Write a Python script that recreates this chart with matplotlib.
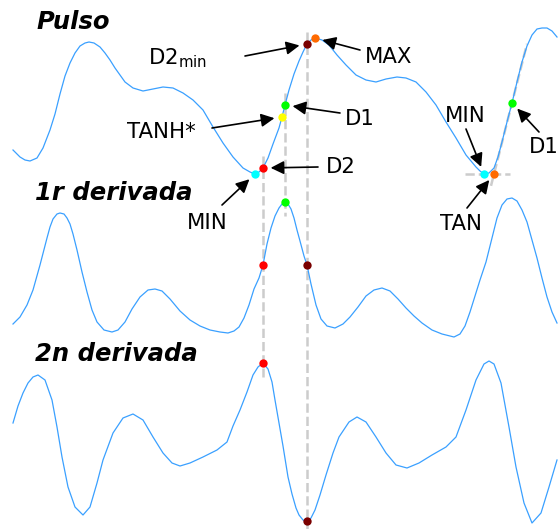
import numpy as np
import matplotlib
matplotlib.use("Agg")
import matplotlib.pyplot as plt

# =========================================================
# DATA (x = sample, values = amplitude)
# =========================================================
pulse_t = [13, 20, 25, 30, 37, 43, 50, 55, 60, 65, 70, 75, 80, 85, 89, 94, 100,
           105, 110, 115, 120, 125, 133, 143, 153, 163, 173, 183, 193, 203, 213,
           223, 233, 243, 250, 255, 259, 263, 268, 273, 279, 282, 285, 289, 294,
           299, 303, 307, 311, 315, 322, 329, 337, 346, 356, 366, 376, 386, 397,
           406, 416, 426, 436, 446, 456, 466, 476, 480, 484, 489, 494, 498, 502,
           507, 512, 517, 522, 527, 532, 537, 542, 547, 552, 557]
pulse_v = [24, 17, 14, 13, 16, 26, 44, 60, 80, 98, 111, 121, 128, 131, 132, 131, 127,
           121, 114, 106, 99, 92, 86, 83, 85, 87, 86, 81, 74, 64, 47,
           31, 17, 6, 2, 0, 2, 6, 16, 30, 46, 57, 69, 84, 100,
           113, 122, 130, 134, 136, 134, 129, 119, 109, 99, 94, 92, 95, 97,
           96, 92, 82, 69, 52, 36, 19, 7, 3, 0, 1, 6, 17, 32,
           52, 71, 92, 112, 128, 139, 145, 146, 146, 143, 137]

d1_t = [13, 20, 27, 33, 40, 47, 50, 53, 57, 60, 64, 67, 70, 73, 77, 82, 87, 92, 97,
        104, 112, 118, 125, 132, 140, 148, 155, 162, 170, 180, 190, 200, 210, 220,
        228, 234, 239, 244, 249, 254, 259, 263, 267, 271, 275, 279, 282, 285, 288,
        291, 294, 297, 300, 304, 307, 311, 316, 321, 327, 335, 343, 350, 358, 366,
        374, 382, 390, 398, 406, 414, 422, 432, 442, 454, 460, 465, 470, 475, 480,
        486, 492, 497, 502, 507, 512, 517, 522, 527, 532, 537, 542, 547, 552, 557]
d1_v = [-34, -27, -15, 0, 25, 52, 63, 71, 76, 77, 76, 72, 66, 56, 40, 18, -2, -20, -32,
        -40, -42, -40, -32, -19, -7, 0, 1, -1, -9, -21, -30, -36, -40, -42,
        -43, -41, -37, -28, -15, 1, 12, 25, 46, 62, 74, 82, 86, 88, 86,
        81, 72, 60, 49, 34, 25, 6, -15, -29, -36, -38, -34, -27, -17, -6,
        0, 2, -1, -9, -18, -26, -33, -40, -44, -47, -44, -36, -22, -6, 10,
        28, 52, 72, 85, 91, 92, 89, 80, 68, 50, 32, 12, -7, -22, -33]

d2_t = [13, 18, 23, 28, 33, 38, 45, 52, 57, 62, 68, 75, 83, 90, 97, 103, 113, 123,
        133, 143, 153, 163, 172, 180, 190, 203, 217, 227, 233, 240, 247, 253, 258,
        263, 268, 272, 275, 279, 283, 288, 292, 296, 299, 303, 307, 311, 315, 320,
        326, 333, 339, 349, 357, 366, 376, 386, 396, 407, 419, 432, 446, 456, 466,
        476, 484, 489, 494, 501, 509, 516, 524, 532, 541, 549, 557]
d2_v = [17, 34, 47, 57, 63, 65, 60, 40, 13, -17, -47, -67, -75, -67, -43, -20, 7, 22,
        26, 20, 3, -13, -23, -26, -23, -17, -10, -2, 14, 30, 48, 65, 73,
        77, 71, 58, 40, 17, -6, -37, -54, -68, -75, -80, -82, -78, -70, -55,
        -35, -13, 3, 18, 23, 18, 3, -13, -25, -28, -23, -15, -7, 3, 30,
        60, 76, 79, 76, 57, 13, -27, -63, -83, -73, -47, -20]

# marked points: (sample, amplitude)
pulse_marks = {
    "MIN": (255, 0), "D2": (263, 6), "TANH": (282, 57), "D1": (285, 69),
    "D2MIN": (307, 130), "MAX": (315, 136),
    "MIN_B": (484, 0), "TAN_B": (494, 0), "D1_B": (512, 71),
}
d1_marks = {"D2": (263, 25), "D1": (285, 88), "D2MIN": (307, 25)}
d2_marks = {"D2": (263, 77), "D2MIN": (307, -81)}

# =========================================================
# STYLE / LAYOUT
# =========================================================
W, H = 558, 529
BASE = {"pulse": 174, "d1": 290, "d2": 440}   # row baselines (pixels from top)
LINE_C = "#3aa0ff"
GUIDE_C = "#cccccc"
MARK_C = {"MIN": "cyan", "MIN_B": "cyan", "D2": "red", "TANH": "yellow",
          "D1": "lime", "D1_B": "lime", "D2MIN": "#7a0000",
          "MAX": "#ff6a00", "TAN_B": "#ff6a00"}

fig = plt.figure(figsize=(W / 100, H / 100), dpi=100)
ax = fig.add_axes([0, 0, 1, 1])
ax.set_xlim(0, W)
ax.set_ylim(H, 0)
ax.axis("off")


def row_y(row, v):
    return BASE[row] - np.asarray(v, dtype=float)


def mark_xy(row, marks, key):
    t, v = marks[key]
    return t, float(row_y(row, v))


# curves
for row, t, v in [("pulse", pulse_t, pulse_v), ("d1", d1_t, d1_v), ("d2", d2_t, d2_v)]:
    ax.plot(t, row_y(row, v), color=LINE_C, lw=0.9, zorder=2,
            solid_joinstyle="round")

# vertical guides through D2, D1, D2min
guide_kw = dict(color=GUIDE_C, lw=1.8, ls="--", zorder=1)
for top, bottom in [(("pulse", pulse_marks, "D2"), ("d2", d2_marks, "D2")),
                    (("pulse", pulse_marks, "D1"), ("d1", d1_marks, "D1")),
                    (("pulse", pulse_marks, "D2MIN"), ("d2", d2_marks, "D2MIN"))]:
    x0, y0 = mark_xy(*top)
    _, y1 = mark_xy(*bottom)
    ax.plot([x0, x0], [y0 - 12, y1 + 14], **guide_kw)

# horizontal line at second MIN and tangent at second D1
mx, my = mark_xy("pulse", pulse_marks, "MIN_B")
tx, ty = mark_xy("pulse", pulse_marks, "TAN_B")
dx, dy = mark_xy("pulse", pulse_marks, "D1_B")
ax.plot([mx - 19, tx + 16], [my, my], **guide_kw)
slope = (dy - ty) / (dx - tx)
xs = np.array([tx - 3, dx + 15])
ax.plot(xs, ty + slope * (xs - tx), **guide_kw)

# markers
for row, marks in [("pulse", pulse_marks), ("d1", d1_marks), ("d2", d2_marks)]:
    for key in marks:
        x, y = mark_xy(row, marks, key)
        ax.plot(x, y, "o", color=MARK_C[key], ms=6, mec="none", zorder=3)

# row titles
title_kw = dict(fontsize=17.5, fontweight="bold", fontstyle="italic",
                ha="left", va="baseline")
ax.text(36, 29, "Pulso", **title_kw)
ax.text(35, 200, "1r derivada", **title_kw)
ax.text(35, 361, "2n derivada", **title_kw)

# annotations: (label, text pos, arrow tail, target)
arrow_kw = dict(arrowstyle="-|>", color="black", lw=1.2,
                mutation_scale=20, shrinkA=0, shrinkB=5.5)
labels = [
    ("D2$_{\\mathrm{min}}$", (148, 64), (245, 56), "D2MIN"),
    ("MAX", (365, 63), (360, 50), "MAX"),
    ("D1", (345, 125), (340, 113), "D1"),
    ("TANH*", (127, 138), (212, 128), "TANH"),
    ("D2", (326, 173), (318, 167), "D2"),
    ("MIN", (187, 229), (222, 205), "MIN"),
    ("MIN", (445, 122), (466, 129), "MIN_B"),
    ("TAN", (440, 230), (467, 208), "TAN_B"),
    ("D1", (529, 153), (539, 132), "D1_B"),
]
for lab, pos, tail, key in labels:
    ax.text(pos[0], pos[1], lab, fontsize=15.3, ha="left", va="baseline")
    ax.annotate("", xy=mark_xy("pulse", pulse_marks, key), xytext=tail,
                arrowprops=arrow_kw, zorder=4)

plt.savefig("out.png", dpi=100)
